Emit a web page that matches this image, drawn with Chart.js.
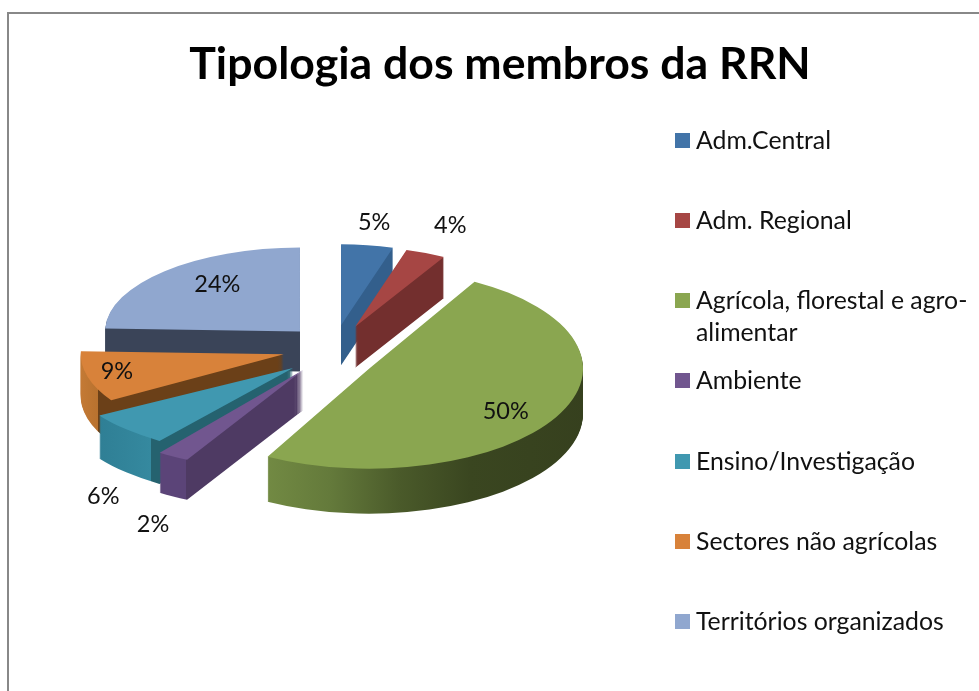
<!DOCTYPE html>
<html>
<head>
<meta charset="utf-8">
<style>
  html, body { margin: 0; padding: 0; background: #fff; overflow: hidden; }
  #frame { position: absolute; left: 7px; top: 12px; width: 2000px; height: 2000px; border: 2px solid #888; }
  #chart { position: absolute; left: 0; top: 0; }
  .item { position: absolute; left: 675px; width: 304px; padding-left: 21px; box-sizing: border-box;
          font: 24.8px/32px Lato, sans-serif; color: #111; }
  .item i { position: absolute; left: 0; top: 9px; width: 15px; height: 15px; }
</style>
</head>
<body>
<div id="frame"></div>
<canvas id="chart" width="1000" height="691"></canvas>
<div id="legend"></div>
<script src="https://cdn.jsdelivr.net/npm/chart.js@4"></script>
<script>
// Data (labels show them rounded)
var categories = ['Adm.Central', 'Adm. Regional', 'Agrícola, florestal e agro-alimentar', 'Ambiente',
    'Ensino/Investigação', 'Sectores não agrícolas', 'Territórios organizados'];
var shares = [4.6, 3.6, 49.6, 2.1, 6.2, 9.4, 24.4];

// Colours: top face and side wall stops [x, colour]
var topColors = ['#4274a8', '#a64644', '#8aa650', '#71568f', '#4098b0', '#d8823a', '#90a7cf'];
var wallStops = [
    [[0, '#335f8c'], [1000, '#335f8c']],
    [[0, '#732f2e'], [1000, '#732f2e']],
    [[266, '#728a43'], [330, '#647a3b'], [400, '#4a5a2a'], [470, '#3a4620'], [590, '#36401e']],
    [[186, '#5b4478'], [186.5, '#4e3a63'], [1000, '#4e3a63']],
    [[100, '#2f7f95'], [151, '#35899f'], [151.5, '#25626f'], [1000, '#25626f']],
    [[80, '#c47a35'], [98, '#b8722f'], [98.5, '#6b4018'], [1000, '#6b4018']],
    [[0, '#3a4458'], [1000, '#3a4458']]
];

// Fake 3D look: an exploded pie seen from above, nearer slices look bigger
var pieX = 334, pieY = 350, tilt = 0.55;
var explode = [49, 54, 40, 58, 56, 52, 49];
var lift = [2, 4, 8, -7, -3, -3, 1];
var radiusX = [182, 180, 214, 245, 228, 203, 195];
var radiusY = [81, 80, 100, 102, 90, 87, 84];
var depth = [40, 41, 45, 40, 43, 42, 40];
var drawOrder = [6, 0, 1, 5, 4, 3, 2];
var labelFx = [1.26, 1.35, 0.73, 1.154, 1.137, 0.85, 0.61];
var labelFy = [1.28, 1.37, 0.89, 1.79, 2.09, 0.75, 0.78];

function apexOf(arc, i) {
    var mid = (arc.startAngle + arc.endAngle) / 2;
    return {
        x: pieX + explode[i] * Math.cos(mid),
        y: pieY + explode[i] * Math.sin(mid) * tilt + lift[i],
        mid: mid
    };
}

function drawFace(ctx, arc, i, down, color) {
    var apex = apexOf(arc, i);
    var saved = arc.options.backgroundColor;
    arc.options.backgroundColor = color;
    ctx.save();
    ctx.translate(apex.x, apex.y + down);
    ctx.scale(radiusX[i] / arc.outerRadius, radiusY[i] / arc.outerRadius);
    ctx.translate(-arc.x, -arc.y);
    arc.draw(ctx);
    ctx.restore();
    arc.options.backgroundColor = saved;
}

// The gradient is read under the slice's own scale, so map screen x into it
function wallGradient(ctx, arc, i) {
    var apex = apexOf(arc, i);
    var k = arc.outerRadius / radiusX[i];
    var g = ctx.createLinearGradient(arc.x + (0 - apex.x) * k, 0, arc.x + (1000 - apex.x) * k, 0);
    wallStops[i].forEach(function (s) { g.addColorStop(s[0] / 1000, s[1]); });
    return g;
}

var pie3d = {
    id: 'pie3d',
    beforeDatasetsDraw: function (chart) {
        var ctx = chart.ctx;
        var arcs = chart.getDatasetMeta(0).data;
        drawOrder.forEach(function (i) {
            var wall = wallGradient(ctx, arcs[i], i);
            for (var d = depth[i]; d > 0; d--) {
                drawFace(ctx, arcs[i], i, d, wall);
            }
            drawFace(ctx, arcs[i], i, 0, topColors[i]);
        });
        return false;
    },
    afterDraw: function (chart) {
        var ctx = chart.ctx;
        var arcs = chart.getDatasetMeta(0).data;
        ctx.save();
        ctx.font = '23.5px Lato, sans-serif';
        ctx.fillStyle = '#111';
        ctx.textAlign = 'center';
        ctx.textBaseline = 'middle';
        arcs.forEach(function (arc, i) {
            var apex = apexOf(arc, i);
            var x = apex.x + radiusX[i] * labelFx[i] * Math.cos(apex.mid);
            var y = apex.y + radiusY[i] * labelFy[i] * Math.sin(apex.mid);
            ctx.fillText(Math.round(shares[i]) + '%', x, y);
        });
        ctx.restore();
    }
};

var myChart = new Chart(document.getElementById('chart').getContext('2d'), {
    type: 'pie',
    data: {
        labels: categories,
        datasets: [{ data: shares, backgroundColor: topColors, borderWidth: 0 }]
    },
    options: {
        responsive: false,
        animation: false,
        radius: 200,
        plugins: {
            legend: { display: false },
            tooltip: { enabled: false },
            title: {
                display: true,
                text: 'Tipologia dos membros da RRN',
                color: '#000',
                font: { family: 'Lato, sans-serif', size: 44.6, weight: 'bold', lineHeight: 1.2 },
                padding: { top: 38, bottom: 0 }
            }
        }
    },
    plugins: [pie3d]
});

// Legend rows are evenly spaced, the wrapped one just runs into its gap
var legendBox = document.getElementById('legend');
categories.forEach(function (name, i) {
    var row = document.createElement('div');
    row.className = 'item';
    row.style.top = (123.5 + i * 80.3) + 'px';
    row.innerHTML = '<i style="background:' + topColors[i] + '"></i>' + name;
    legendBox.appendChild(row);
});
</script>
</body>
</html>
